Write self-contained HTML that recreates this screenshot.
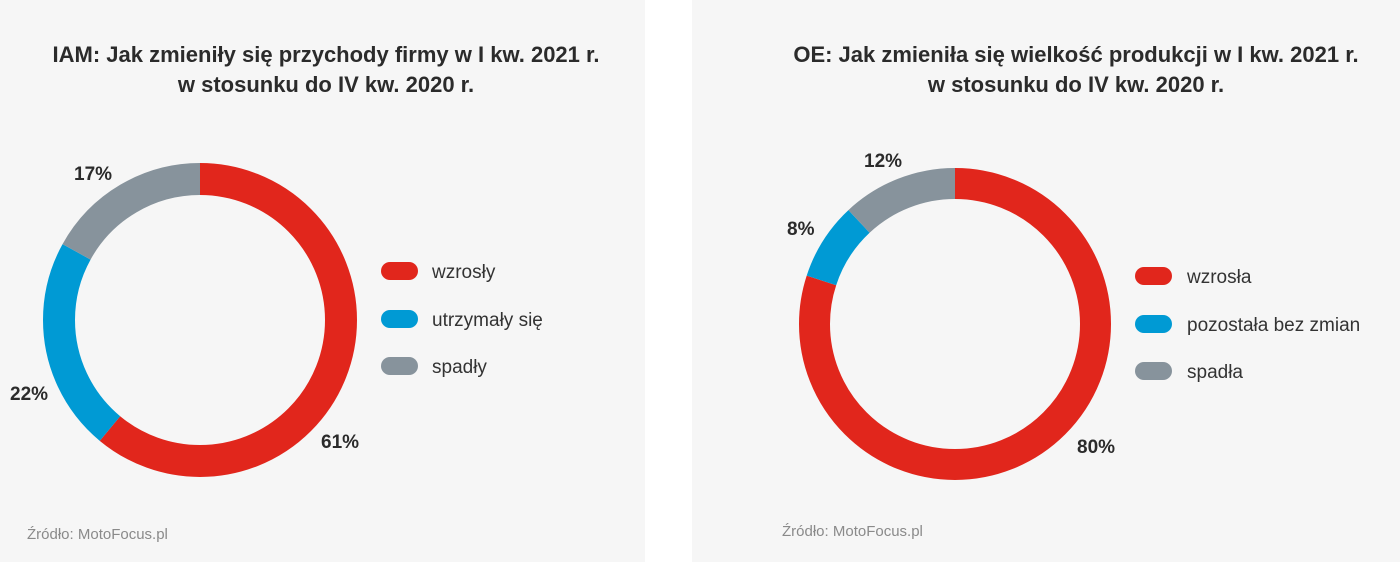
<!DOCTYPE html>
<html><head><meta charset="utf-8"><style>
body{margin:0;width:1400px;height:562px;background:#fff;overflow:hidden}
svg{display:block}
text{font-family:"Liberation Sans",sans-serif}
</style></head><body>
<svg width="1400" height="562" viewBox="0 0 1400 562">
<rect x="0" y="0" width="645" height="562" fill="#f6f6f6"/>
<rect x="692" y="0" width="708" height="562" fill="#f6f6f6"/>
<g font-weight="bold" font-size="22" fill="#2b2b2b" text-anchor="middle">
<text x="326" y="62">IAM: Jak zmieniły się przychody firmy w I kw. 2021 r.</text>
<text x="326" y="92">w stosunku do IV kw. 2020 r.</text>
<text x="1076" y="62">OE: Jak zmieniła się wielkość produkcji w I kw. 2021 r.</text>
<text x="1076" y="92">w stosunku do IV kw. 2020 r.</text>
</g>
<!-- left donut C=2*pi*141=885.9 -->
<g transform="rotate(-90 200 320)" fill="none" stroke-width="32">
<circle cx="200" cy="320" r="141" stroke="#e1261c" stroke-dasharray="540.4 885.9"/>
<circle cx="200" cy="320" r="141" stroke="#009ad4" stroke-dasharray="0 540.4 194.9 885.9"/>
<circle cx="200" cy="320" r="141" stroke="#87939c" stroke-dasharray="0 735.3 150.6 885.9"/>
</g>
<!-- right donut C=2*pi*140.5=882.8 -->
<g transform="rotate(-90 955 324)" fill="none" stroke-width="31">
<circle cx="955" cy="324" r="140.5" stroke="#e1261c" stroke-dasharray="706.2 882.8"/>
<circle cx="955" cy="324" r="140.5" stroke="#009ad4" stroke-dasharray="0 706.2 70.6 882.8"/>
<circle cx="955" cy="324" r="140.5" stroke="#87939c" stroke-dasharray="0 776.8 106 882.8"/>
</g>
<g font-weight="bold" font-size="19" fill="#2b2b2b">
<text x="74" y="180">17%</text>
<text x="10" y="400">22%</text>
<text x="321" y="448">61%</text>
<text x="864" y="167">12%</text>
<text x="787" y="235">8%</text>
<text x="1077" y="453">80%</text>
</g>
<g font-size="19" fill="#333">
<rect x="381" y="262" width="37" height="18" rx="9" fill="#e1261c"/><text x="432" y="278">wzrosły</text>
<rect x="381" y="310" width="37" height="18" rx="9" fill="#009ad4"/><text x="432" y="326">utrzymały się</text>
<rect x="381" y="357" width="37" height="18" rx="9" fill="#87939c"/><text x="432" y="373">spadły</text>
<rect x="1135" y="267" width="37" height="18" rx="9" fill="#e1261c"/><text x="1187" y="283">wzrosła</text>
<rect x="1135" y="315" width="37" height="18" rx="9" fill="#009ad4"/><text x="1187" y="331">pozostała bez zmian</text>
<rect x="1135" y="362" width="37" height="18" rx="9" fill="#87939c"/><text x="1187" y="378">spadła</text>
</g>
<g font-size="15" fill="#8a8a8a">
<text x="27" y="539">Źródło: MotoFocus.pl</text>
<text x="782" y="536">Źródło: MotoFocus.pl</text>
</g>
</svg>
</body></html>
